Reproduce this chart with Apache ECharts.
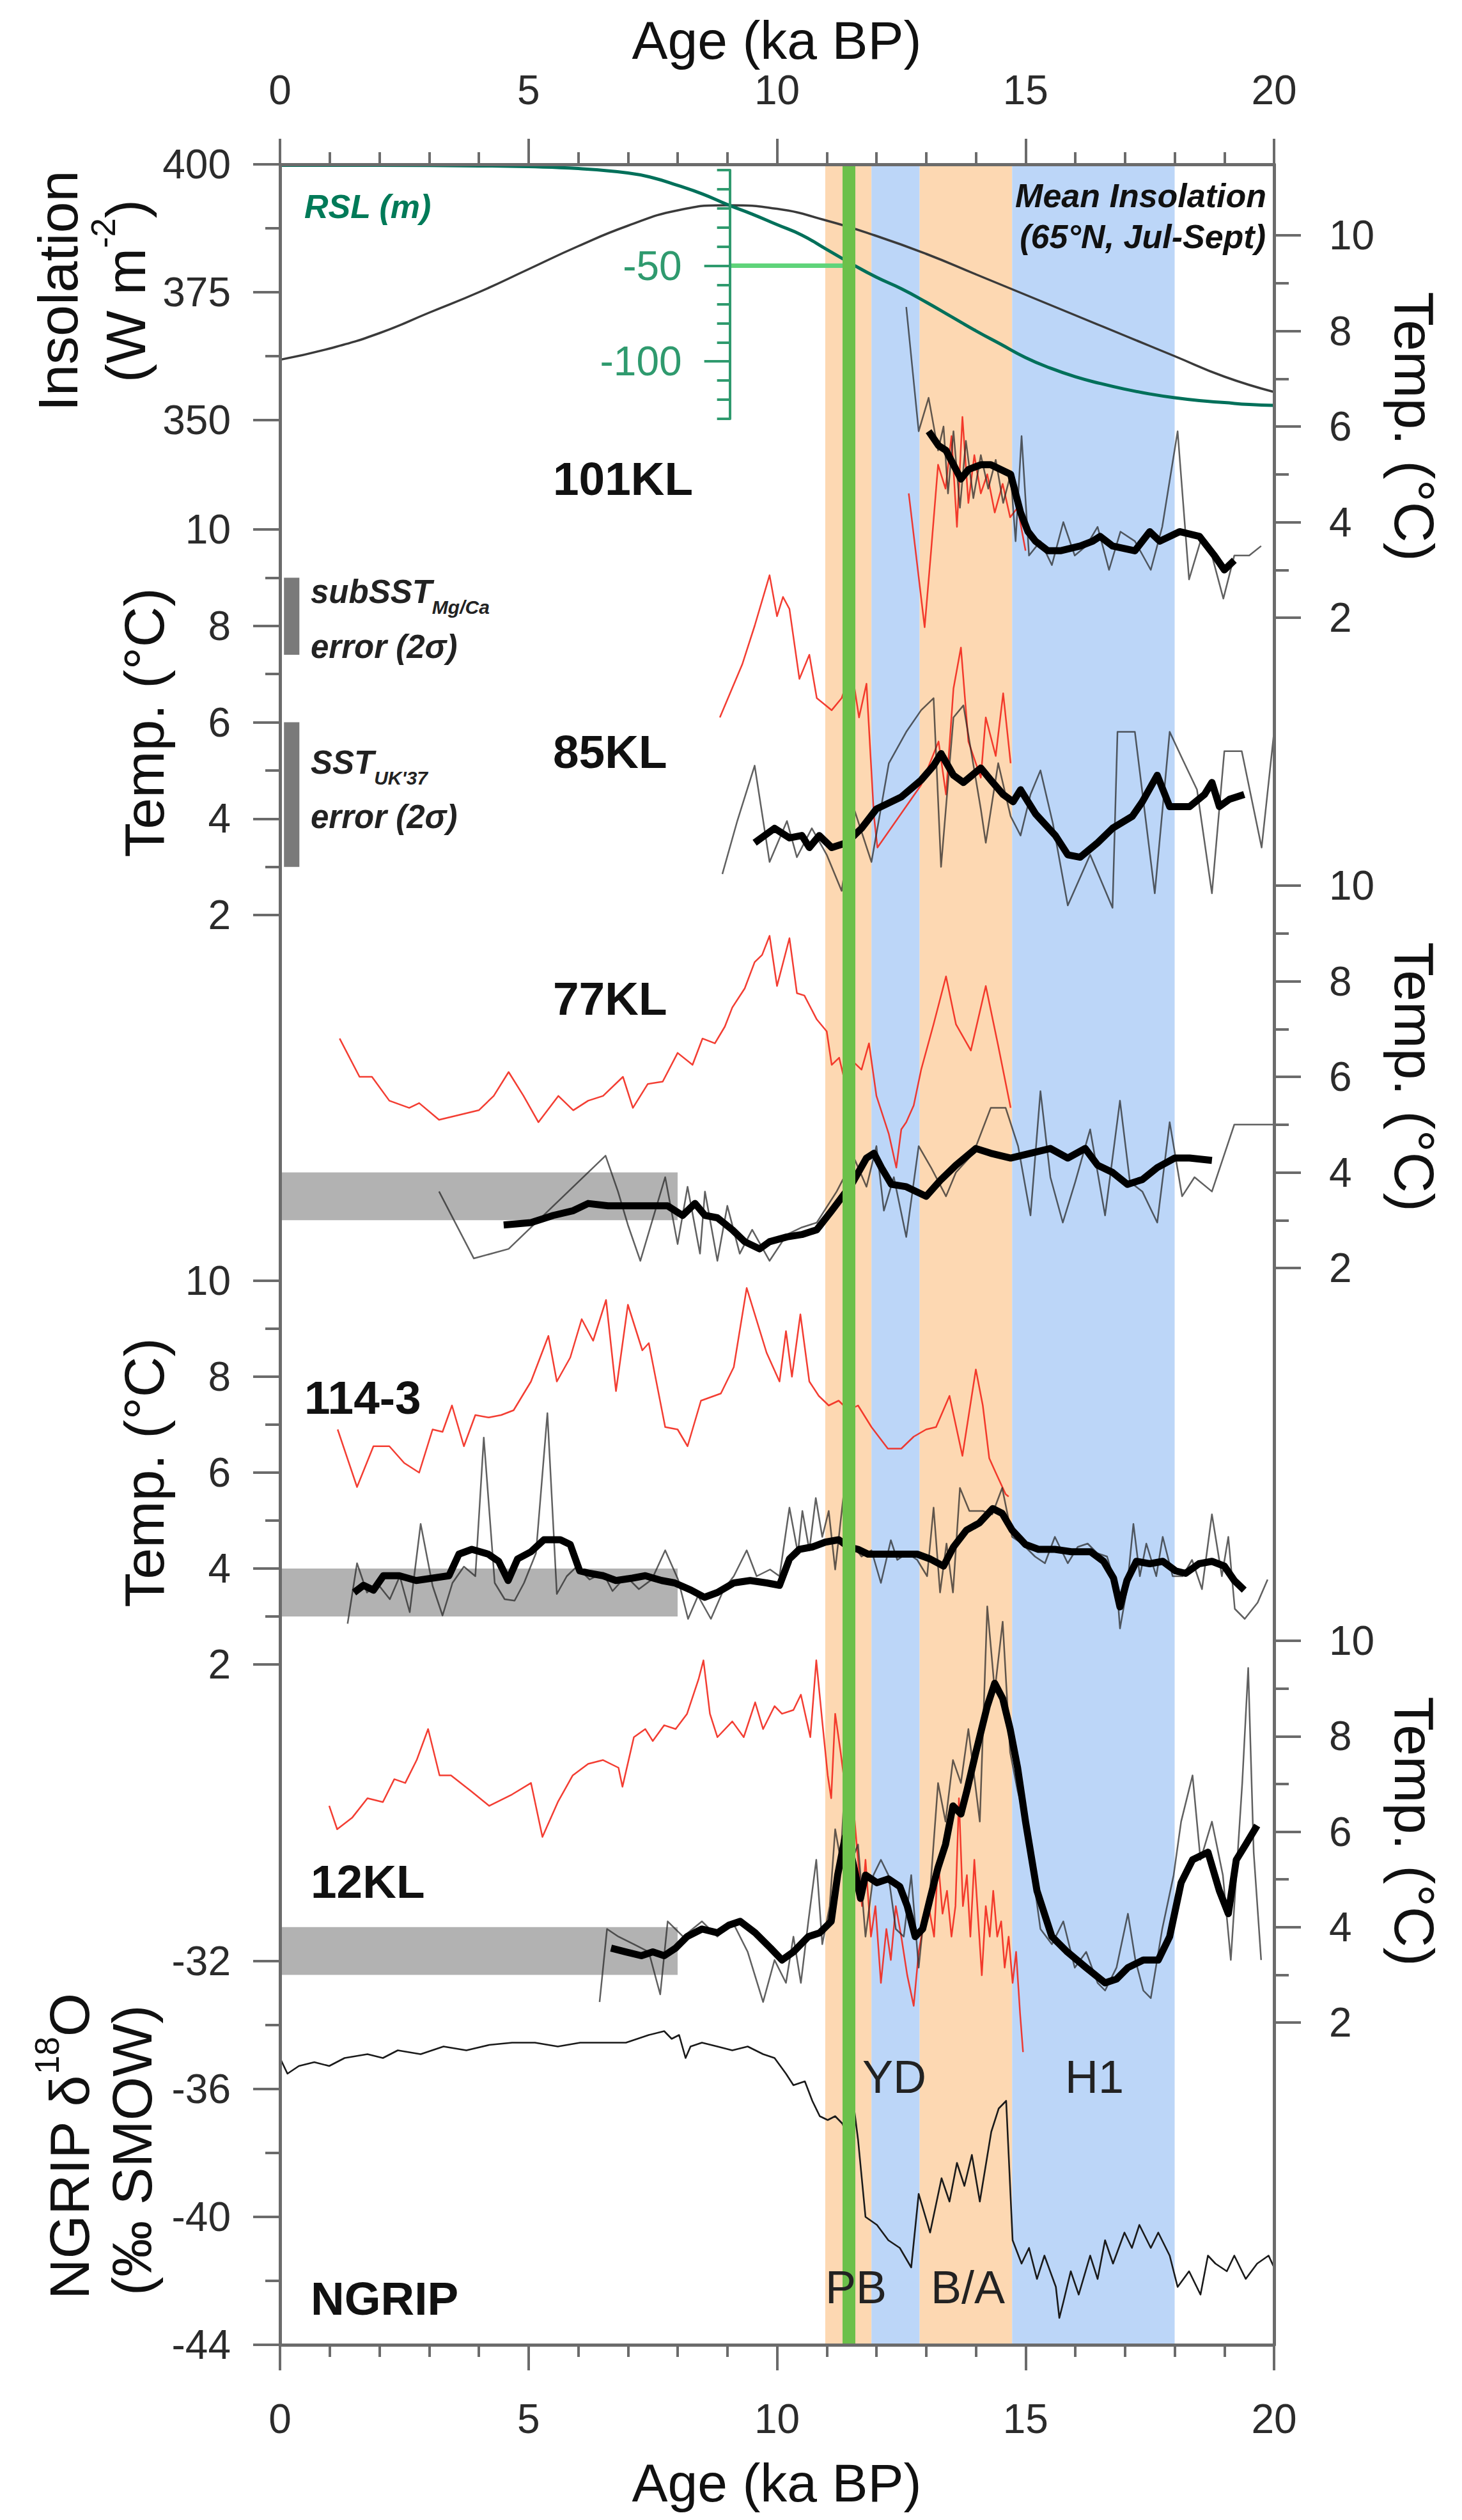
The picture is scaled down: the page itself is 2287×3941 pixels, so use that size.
<!DOCTYPE html>
<html lang="en">
<head>
<meta charset="UTF-8">
<title>Deglacial temperature records</title>
<style>
    html, body { margin: 0; padding: 0; background: #fff; }
    #chart { width: 2287px; height: 3941px; }
</style>
</head>
<body>
<div id="chart"></div>
<script src="https://cdn.jsdelivr.net/npm/echarts@6.0.0/dist/echarts.min.js"></script>
<script>
// ---- data (age in ka BP, value) ----
const insolAge = [0,1,2,3,4,5,6,7,8,9,10,11,12,13,14,15,16,17,18,19,20];
const insolW   = [361.8,364,367,371,375,379.5,384,388,391,392,391.3,389,386,382.5,378.5,374.5,370.5,366.5,362.5,358.5,355.5];

const rslAge = [0,2,4,5,6,7,7.5,8,8.5,9,9.5,10,10.5,11,11.5,12,12.5,13,13.5,14,14.5,15,15.5,16,16.5,17,17.5,18,18.5,19,19.5,20];
const rslM   = [2.5,2.5,2.2,1.8,0.8,-1.5,-4,-8,-12.5,-18,-23,-28.5,-34,-41.5,-49,-56,-62,-69,-76.5,-84,-91,-98,-103.5,-108,-111.5,-114.5,-117,-119,-120.5,-121.5,-122.5,-123];
const rslMark = [[9.05,-50],[11.45,-50]];

const kl101Red = [[12.65,4.6],[12.97,1.8],[13.1,3.4],[13.24,5.2],[13.39,4.7],[13.51,5.8],[13.62,3.9],[13.73,6.2],[13.85,4.4],[13.97,5.4],[14.1,4.6],[14.23,5.0],[14.38,4.2],[14.54,4.8],[14.69,4.1],[14.84,4.3],[15.0,3.4]];
const kl101Thin = [[12.6,8.5],[12.85,5.9],[13.05,6.6],[13.24,5.5],[13.35,6.0],[13.44,4.6],[13.55,5.9],[13.68,4.3],[13.8,5.7],[13.95,4.5],[14.1,5.4],[14.25,4.7],[14.4,5.3],[14.55,4.4],[14.7,5.0],[14.8,3.6],[14.92,5.8],[15.07,3.3],[15.3,3.6],[15.53,3.1],[15.76,4.0],[15.99,3.3],[16.22,3.5],[16.45,3.9],[16.68,3.0],[16.91,3.8],[17.2,3.6],[17.52,3.0],[17.75,3.9],[18.06,5.9],[18.29,2.8],[18.52,3.6],[18.75,3.3],[18.98,2.4],[19.2,3.3],[19.5,3.3],[19.74,3.5]];
const kl101Thick = [[13.05,5.9],[13.25,5.6],[13.4,5.5],[13.55,5.2],[13.7,4.9],[13.85,5.1],[14.1,5.2],[14.3,5.2],[14.5,5.1],[14.7,5.0],[14.9,4.2],[15.05,3.8],[15.2,3.6],[15.45,3.4],[15.7,3.4],[16.1,3.5],[16.35,3.6],[16.5,3.7],[16.75,3.5],[17.2,3.4],[17.5,3.8],[17.7,3.6],[18.1,3.8],[18.5,3.7],[18.8,3.3],[19.0,3.0],[19.2,3.2]];

const kl85Red = [[8.85,6.1],[9.3,7.2],[9.55,8.0],[9.85,9.05],[10.0,8.2],[10.12,8.6],[10.25,8.35],[10.45,6.9],[10.65,7.4],[10.8,6.5],[11.1,6.25],[11.3,6.5],[11.5,7.1],[11.65,6.1],[11.8,6.8],[11.95,4.05],[12.02,3.4],[12.9,4.7],[13.25,5.6],[13.4,4.5],[13.55,6.7],[13.7,7.55],[13.85,5.6],[14.1,4.85],[14.2,6.1],[14.4,5.3],[14.55,6.6],[14.7,5.15]];
const kl85Thin = [[8.9,2.85],[9.2,3.95],[9.55,5.1],[9.85,3.1],[10.2,3.95],[10.4,3.2],[10.7,3.8],[11.0,3.25],[11.3,2.5],[11.55,4.2],[11.9,3.1],[12.25,5.15],[12.6,5.8],[12.9,6.25],[13.15,6.5],[13.3,3.0],[13.55,6.1],[13.75,6.35],[14.1,4.2],[14.2,3.5],[14.45,5.15],[14.7,4.05],[14.9,3.65],[15.1,4.5],[15.3,5.0],[15.55,3.9],[15.85,2.2],[16.3,3.25],[16.75,2.15],[16.85,5.8],[17.2,5.8],[17.6,2.45],[17.9,5.8],[18.15,5.25],[18.45,4.6],[18.75,2.45],[19.0,5.4],[19.35,5.4],[19.75,3.4],[20.0,5.8]];
const kl85Thick = [[9.55,3.5],[9.95,3.8],[10.25,3.6],[10.5,3.65],[10.65,3.4],[10.85,3.65],[11.1,3.4],[11.4,3.5],[11.7,3.8],[12.0,4.2],[12.5,4.45],[12.9,4.8],[13.15,5.1],[13.3,5.35],[13.55,4.9],[13.75,4.75],[14.1,5.05],[14.3,4.8],[14.55,4.5],[14.75,4.35],[14.9,4.6],[15.2,4.1],[15.6,3.65],[15.85,3.25],[16.1,3.2],[16.45,3.5],[16.75,3.8],[17.15,4.05],[17.35,4.35],[17.65,4.9],[17.9,4.25],[18.3,4.25],[18.6,4.5],[18.75,4.75],[18.9,4.25],[19.1,4.4],[19.4,4.5]];

const kl77Red = [[1.2,6.8],[1.6,6.0],[1.85,6.0],[2.2,5.5],[2.6,5.35],[2.8,5.45],[3.2,5.1],[3.6,5.2],[4.0,5.3],[4.3,5.6],[4.6,6.1],[4.9,5.6],[5.2,5.05],[5.6,5.6],[5.9,5.3],[6.2,5.5],[6.5,5.6],[6.9,6.0],[7.1,5.35],[7.4,5.85],[7.7,5.9],[8.0,6.5],[8.3,6.25],[8.5,6.8],[8.75,6.7],[8.95,7.05],[9.1,7.45],[9.35,7.85],[9.55,8.4],[9.7,8.55],[9.85,8.95],[10.0,7.9],[10.25,8.9],[10.4,7.75],[10.55,7.7],[10.8,7.2],[11.0,6.95],[11.1,6.25],[11.25,6.4],[11.4,5.75],[11.55,6.3],[11.7,6.15],[11.85,6.7],[12.0,5.6],[12.25,4.8],[12.4,4.1],[12.5,4.9],[12.6,5.05],[12.75,5.4],[12.9,6.15],[13.15,7.1],[13.4,8.1],[13.6,7.1],[13.9,6.55],[14.2,7.9],[14.45,6.65],[14.7,5.35]];
const kl77Thin = [[3.2,3.6],[3.9,2.2],[4.6,2.4],[6.55,4.35],[6.8,3.6],[7.0,2.9],[7.25,2.15],[7.75,3.9],[8.0,2.5],[8.2,3.7],[8.45,2.3],[8.55,3.6],[8.8,2.15],[9.0,3.3],[9.25,2.3],[9.5,2.8],[9.85,2.15],[10.2,2.7],[10.5,2.85],[10.8,2.95],[11.2,3.6],[11.55,4.3],[11.8,3.7],[12.0,4.55],[12.15,3.2],[12.35,3.9],[12.6,2.65],[12.85,4.55],[13.1,4.1],[13.4,3.5],[13.6,4.0],[13.95,4.4],[14.3,5.35],[14.6,5.35],[14.85,4.55],[15.1,3.1],[15.3,5.7],[15.5,3.9],[15.75,2.95],[16.0,3.8],[16.3,4.9],[16.6,3.1],[16.9,5.5],[17.1,3.8],[17.35,3.6],[17.65,2.95],[17.9,5.05],[18.15,3.5],[18.4,3.9],[18.75,3.6],[19.2,5.0],[19.5,5.0],[20.0,5.0]];
const kl77Thick = [[4.5,2.9],[5.05,2.95],[5.5,3.1],[5.9,3.2],[6.2,3.35],[6.6,3.3],[7.0,3.3],[7.4,3.3],[7.8,3.3],[8.1,3.1],[8.35,3.35],[8.55,3.1],[8.8,3.05],[9.1,2.8],[9.35,2.55],[9.65,2.4],[9.85,2.55],[10.2,2.65],[10.5,2.7],[10.8,2.8],[11.1,3.2],[11.5,3.75],[11.8,4.3],[11.95,4.4],[12.1,4.1],[12.3,3.75],[12.6,3.7],[13.0,3.5],[13.3,3.85],[13.6,4.15],[14.0,4.5],[14.3,4.4],[14.7,4.3],[15.1,4.4],[15.5,4.5],[15.85,4.3],[16.2,4.5],[16.45,4.15],[16.75,4.0],[17.05,3.75],[17.35,3.85],[17.65,4.1],[18.0,4.3],[18.3,4.3],[18.75,4.25]];

const kl114Red = [[1.16,6.9],[1.55,5.7],[1.88,6.55],[2.2,6.55],[2.5,6.2],[2.8,6.0],[3.07,6.9],[3.27,6.85],[3.46,7.4],[3.7,6.55],[3.93,7.2],[4.2,7.15],[4.45,7.2],[4.7,7.3],[5.05,7.9],[5.4,8.85],[5.57,7.9],[5.84,8.4],[6.07,9.2],[6.3,8.75],[6.56,9.6],[6.76,7.7],[7.0,9.5],[7.29,8.55],[7.42,8.7],[7.75,6.95],[8.0,6.9],[8.2,6.55],[8.47,7.5],[8.87,7.65],[9.13,8.2],[9.39,9.85],[9.79,8.5],[10.05,7.9],[10.18,8.95],[10.3,8.0],[10.47,9.3],[10.65,7.9],[10.84,7.6],[11.04,7.4],[11.24,7.5],[11.44,7.3],[11.63,7.4],[11.9,6.95],[12.23,6.5],[12.5,6.5],[12.75,6.75],[13.0,6.9],[13.2,6.95],[13.47,7.6],[13.73,6.35],[14.0,8.15],[14.14,7.4],[14.27,6.3],[14.4,6.0],[14.6,5.55],[14.66,5.5]];
const kl114Thin = [[1.36,2.85],[1.55,4.11],[1.75,3.5],[1.95,3.7],[2.21,3.36],[2.41,3.84],[2.61,3.09],[2.83,4.93],[3.07,3.64],[3.27,3.02],[3.47,3.7],[3.7,4.04],[3.93,3.84],[4.1,6.73],[4.32,3.7],[4.52,3.36],[4.72,3.33],[4.91,3.7],[5.15,4.32],[5.38,7.24],[5.57,3.47],[5.77,3.84],[5.97,4.04],[6.23,3.77],[6.5,3.91],[6.69,3.53],[6.96,3.84],[7.22,3.57],[7.48,3.77],[7.75,4.38],[8.01,3.77],[8.21,2.95],[8.41,3.43],[8.67,2.95],[8.93,3.57],[9.13,3.84],[9.39,4.38],[9.59,3.84],[9.86,3.98],[10.05,3.84],[10.25,5.27],[10.42,4.32],[10.51,5.2],[10.65,4.38],[10.78,5.47],[10.91,4.66],[11.04,5.2],[11.17,3.98],[11.34,5.54],[11.5,4.52],[11.7,4.25],[11.9,4.38],[12.09,3.7],[12.29,4.59],[12.42,4.18],[12.62,4.32],[12.82,4.18],[13.02,3.84],[13.15,5.27],[13.28,3.5],[13.41,4.52],[13.54,3.5],[13.68,5.68],[13.87,5.2],[14.14,5.2],[14.33,5.13],[14.53,5.68],[14.73,4.66],[14.93,4.52],[15.19,4.25],[15.39,4.11],[15.59,4.66],[15.85,4.11],[16.05,4.45],[16.25,4.52],[16.44,4.32],[16.64,4.25],[16.84,3.57],[16.9,2.75],[17.04,3.57],[17.17,4.93],[17.3,3.84],[17.43,4.52],[17.63,3.84],[17.76,4.66],[17.96,3.84],[18.16,3.84],[18.35,4.18],[18.55,3.57],[18.75,5.13],[18.95,3.84],[19.08,4.66],[19.21,3.16],[19.41,2.95],[19.67,3.29],[19.87,3.77]];
const kl114Thick = [[1.49,3.5],[1.68,3.65],[1.88,3.55],[2.08,3.85],[2.4,3.85],[2.74,3.75],[3.07,3.8],[3.4,3.85],[3.6,4.3],[3.86,4.4],[4.19,4.3],[4.4,4.15],[4.59,3.75],[4.78,4.2],[5.05,4.35],[5.31,4.6],[5.64,4.6],[5.84,4.5],[6.03,3.95],[6.23,3.9],[6.5,3.85],[6.76,3.75],[7.09,3.8],[7.35,3.85],[7.68,3.75],[7.94,3.7],[8.27,3.55],[8.54,3.4],[8.8,3.5],[9.13,3.7],[9.46,3.75],[9.79,3.7],[10.05,3.65],[10.25,4.2],[10.45,4.4],[10.71,4.45],[10.97,4.55],[11.24,4.6],[11.44,4.45],[11.63,4.4],[11.83,4.3],[12.16,4.3],[12.5,4.3],[12.82,4.3],[13.08,4.2],[13.35,4.05],[13.55,4.45],[13.81,4.8],[14.07,4.95],[14.34,5.25],[14.53,5.15],[14.73,4.8],[15.0,4.5],[15.26,4.4],[15.59,4.4],[15.92,4.35],[16.31,4.35],[16.57,4.15],[16.77,3.8],[16.9,3.2],[17.04,3.75],[17.23,4.15],[17.5,4.1],[17.76,4.15],[18.02,3.95],[18.22,3.9],[18.49,4.1],[18.75,4.15],[19.0,4.05],[19.2,3.75],[19.4,3.55]];

const kl12Red = [[0.99,6.54],[1.15,6.05],[1.45,6.29],[1.76,6.7],[2.07,6.62],[2.3,7.1],[2.52,7.02],[2.75,7.5],[2.98,8.15],[3.21,7.18],[3.44,7.18],[3.83,6.86],[4.21,6.54],[4.67,6.78],[5.05,7.02],[5.28,5.89],[5.59,6.62],[5.89,7.18],[6.2,7.42],[6.5,7.5],[6.81,7.34],[6.89,6.94],[7.12,7.98],[7.35,8.15],[7.5,7.9],[7.73,8.23],[7.96,8.15],[8.19,8.47],[8.42,9.19],[8.52,9.59],[8.65,8.47],[8.8,7.98],[9.1,8.31],[9.33,7.98],[9.56,8.71],[9.72,8.15],[9.95,8.63],[10.1,8.47],[10.33,8.55],[10.48,8.87],[10.67,7.98],[10.79,9.59],[10.91,8.31],[11.02,7.18],[11.09,6.7],[11.17,8.47],[11.28,7.66],[11.4,6.7],[11.48,5.41],[11.55,6.37],[11.71,4.44],[11.78,5.41],[11.89,3.8],[11.98,4.44],[12.09,2.83],[12.2,3.96],[12.29,3.31],[12.39,4.44],[12.5,3.8],[12.62,2.99],[12.75,2.35],[12.85,3.48],[12.96,4.12],[13.05,4.44],[13.16,3.8],[13.24,5.41],[13.33,4.28],[13.42,4.76],[13.51,3.8],[13.59,4.44],[13.66,6.7],[13.74,4.44],[13.82,5.09],[13.89,3.8],[13.97,5.41],[14.05,4.12],[14.12,2.99],[14.2,4.44],[14.28,3.8],[14.35,4.76],[14.43,3.8],[14.51,4.12],[14.58,3.15],[14.66,3.8],[14.74,2.83],[14.81,3.48],[14.89,2.19],[14.95,1.38]];
const kl12Thin = [[6.43,2.43],[6.58,3.96],[6.81,3.8],[7.12,3.64],[7.42,3.48],[7.65,2.59],[7.8,4.12],[8.11,3.8],[8.49,4.12],[8.8,3.8],[9.1,4.12],[9.41,3.48],[9.72,2.43],[9.95,3.31],[10.18,2.83],[10.33,3.8],[10.48,2.83],[10.63,4.12],[10.79,5.41],[10.91,3.64],[11.06,4.44],[11.17,6.05],[11.28,5.41],[11.4,7.66],[11.51,5.41],[11.63,5.73],[11.78,3.8],[11.94,5.09],[12.09,5.41],[12.24,5.09],[12.39,3.96],[12.55,3.8],[12.7,5.09],[12.85,3.15],[12.96,4.28],[13.08,4.76],[13.24,7.02],[13.39,6.21],[13.54,7.5],[13.7,7.02],[13.85,8.15],[14.08,6.21],[14.23,10.72],[14.38,8.95],[14.54,10.4],[14.69,7.66],[14.84,6.86],[15.0,6.21],[15.15,5.09],[15.3,3.96],[15.53,3.64],[15.76,4.12],[15.99,3.15],[16.22,3.48],[16.45,2.83],[16.6,2.67],[16.83,3.15],[17.06,4.28],[17.21,3.31],[17.37,2.67],[17.52,2.51],[17.75,3.96],[17.98,5.09],[18.13,6.21],[18.36,7.18],[18.52,5.41],[18.75,6.21],[18.97,5.09],[19.13,3.31],[19.36,7.02],[19.48,9.43],[19.59,5.57],[19.74,3.31]];
const kl12Thick = [[6.66,3.56],[6.96,3.48],[7.27,3.4],[7.5,3.48],[7.73,3.4],[7.96,3.56],[8.19,3.8],[8.49,3.96],[8.8,3.88],[9.03,4.04],[9.26,4.12],[9.56,3.88],[9.87,3.56],[10.1,3.31],[10.33,3.48],[10.63,3.8],[10.86,3.88],[11.09,4.12],[11.22,5.09],[11.37,5.89],[11.48,5.57],[11.55,5.25],[11.68,4.6],[11.78,5.09],[12.01,4.93],[12.24,5.01],[12.47,4.85],[12.62,4.44],[12.78,3.8],[12.93,3.96],[13.08,4.6],[13.24,5.25],[13.39,5.73],[13.54,6.54],[13.7,6.37],[13.82,6.86],[14.0,7.66],[14.23,8.63],[14.38,9.11],[14.54,8.79],[14.69,8.15],[14.84,7.34],[15.0,6.21],[15.23,4.76],[15.53,3.8],[15.84,3.48],[16.22,3.15],[16.6,2.83],[16.83,2.91],[17.06,3.15],[17.37,3.31],[17.67,3.31],[17.9,3.8],[18.13,4.93],[18.36,5.41],[18.67,5.57],[18.9,4.76],[19.08,4.28],[19.24,5.41],[19.43,5.73],[19.66,6.13]];

const ngrip = [[0,-35.03],[0.15,-35.52],[0.38,-35.28],[0.69,-35.16],[0.99,-35.28],[1.3,-35.03],[1.76,-34.91],[2.07,-35.03],[2.37,-34.79],[2.83,-34.91],[3.29,-34.67],[3.75,-34.79],[4.21,-34.62],[4.67,-34.55],[5.13,-34.55],[5.59,-34.67],[6.04,-34.55],[6.5,-34.55],[6.96,-34.55],[7.42,-34.31],[7.73,-34.19],[7.88,-34.43],[8.03,-34.31],[8.16,-35.03],[8.26,-34.67],[8.49,-34.55],[8.8,-34.67],[9.1,-34.79],[9.41,-34.67],[9.72,-34.91],[9.95,-35.03],[10.18,-35.52],[10.33,-35.88],[10.56,-35.76],[10.71,-36.37],[10.86,-36.85],[11.02,-36.97],[11.17,-36.85],[11.32,-37.09],[11.48,-37.82],[11.55,-36.61],[11.63,-37.58],[11.78,-40.0],[12.01,-40.25],[12.24,-40.73],[12.47,-40.97],[12.7,-41.58],[12.85,-39.28],[13.08,-40.49],[13.31,-38.79],[13.47,-39.52],[13.62,-38.31],[13.77,-39.03],[13.92,-38.06],[14.08,-39.52],[14.31,-37.34],[14.46,-36.61],[14.61,-36.37],[14.74,-40.73],[14.92,-41.46],[15.07,-40.97],[15.23,-41.94],[15.38,-41.21],[15.61,-42.19],[15.68,-43.16],[15.76,-42.67],[15.91,-41.7],[16.07,-42.43],[16.3,-41.21],[16.45,-41.94],[16.6,-40.73],[16.76,-41.46],[16.99,-40.49],[17.14,-40.97],[17.29,-40.25],[17.52,-40.97],[17.67,-40.49],[17.9,-41.21],[18.06,-42.19],[18.29,-41.7],[18.52,-42.43],[18.67,-41.21],[18.82,-41.46],[19.05,-41.7],[19.2,-41.21],[19.43,-41.94],[19.66,-41.46],[19.89,-41.21],[20,-41.58]];

// period bands (ka) and Preboreal marker
const pbBand = [10.97, 11.9];
const ydBand = [11.9, 12.87];
const baBand = [12.87, 14.73];
const h1Band = [14.73, 18.0];
const pbLineAge = 11.45;

// grey 2-sigma boxes (age range, temperature range)
const greyAge = [0, 8];
const kl77Grey = [3, 4];
const kl114Grey = [3, 4];
const kl12Grey = [3, 4];
const subSstErr = [7.4, 9.0];
const sstErr = [3.0, 6.0];

// ---- layout ----
const FONT = '"Liberation Sans", Arial, Helvetica, sans-serif';
const AXC = '#6b6b6b';
const LBC = '#2b2b2b';
const PXKA = 1555 / 20;
const TICKFONT = 64;

function grid(top, height) {
    return { left: 438, right: 294, top: top, height: height };
}
const grids = [
    grid(257, 3410),  // 0 frame
    grid(257, 400),   // 1 insolation
    grid(266, 389),   // 2 RSL
    grid(368, 598),   // 3 101KL
    grid(828, 603),   // 4 85KL
    grid(1385, 598),  // 5 77KL
    grid(2003, 600),  // 6 114-3
    grid(2566, 597),  // 7 12KL
    grid(3067, 600)   // 8 NGRIP
];

function ageAxis(pos) {
    return {
        gridIndex: 0, type: 'value', position: pos, min: 0, max: 20, interval: 5, z: 10,
        axisLine: { onZero: false, lineStyle: { color: AXC, width: 5 } },
        axisTick: { length: 40, lineStyle: { color: AXC, width: 4 } },
        minorTick: { show: true, splitNumber: 5, length: 19, lineStyle: { color: AXC, width: 4 } },
        axisLabel: { margin: 84, fontSize: TICKFONT, fontFamily: FONT, color: LBC },
        splitLine: { show: false }
    };
}
const xAxes = [ageAxis('bottom'), ageAxis('top')];
for (let g = 1; g < grids.length; g++) {
    xAxes.push({ gridIndex: g, type: 'value', min: 0, max: 20, show: false, axisLine: { onZero: false } });
}

function valAxis(g, pos, min, max, interval, labelMargin) {
    return {
        gridIndex: g, type: 'value', position: pos, min: min, max: max, interval: interval, z: 10,
        axisLine: { show: false, onZero: false },
        axisTick: { show: true, length: 42, lineStyle: { color: AXC, width: 4 } },
        minorTick: { show: true, splitNumber: 2, length: 23, lineStyle: { color: AXC, width: 4 } },
        axisLabel: { margin: labelMargin, fontSize: TICKFONT, fontFamily: FONT, color: LBC },
        splitLine: { show: false }
    };
}
function frameSide(pos) {
    return {
        gridIndex: 0, type: 'value', position: pos, min: 0, max: 1, z: 10,
        axisLine: { show: true, onZero: false, lineStyle: { color: AXC, width: 5 } },
        axisTick: { show: false }, axisLabel: { show: false }, splitLine: { show: false }
    };
}
const RSL_OFFSET = -9.05 * PXKA;
const RSLC = '#2f9a6e';

const yAxes = [
    frameSide('left'),                             // 0
    frameSide('right'),                            // 1
    valAxis(1, 'left', 350, 400, 25, 77),          // 2 insolation
    { gridIndex: 2, type: 'value', position: 'left', offset: RSL_OFFSET, min: -130, max: 0, interval: 10, z: 10,
      axisLine: { show: true, onZero: false, lineStyle: { color: RSLC, width: 4 } },
      axisTick: { length: 20, lineStyle: { color: RSLC, width: 4 } },
      axisLabel: { show: false }, splitLine: { show: false } },           // 3 RSL minor ticks
    { gridIndex: 2, type: 'value', position: 'left', offset: RSL_OFFSET, min: -130, max: 0, z: 10,
      axisLine: { show: false, onZero: false },
      axisTick: { length: 40, customValues: [-50, -100], lineStyle: { color: RSLC, width: 4 } },
      axisLabel: { margin: 75, customValues: [-50, -100], fontSize: TICKFONT, fontFamily: FONT, color: RSLC },
      splitLine: { show: false } },                                       // 4 RSL labels
    valAxis(3, 'right', 2, 10, 2, 86),             // 5 101KL
    valAxis(4, 'left', 2, 10, 2, 77),              // 6 85KL
    valAxis(5, 'right', 2, 10, 2, 86),             // 7 77KL
    valAxis(6, 'left', 2, 10, 2, 77),              // 8 114-3
    valAxis(7, 'right', 2, 10, 2, 86),             // 9 12KL
    valAxis(8, 'left', -44, -32, 4, 77)            // 10 NGRIP
];

const zip = (a, b) => a.map((v, i) => [v, b[i]]);

function line(data, g, yIdx, color, width, z, smooth) {
    return {
        type: 'line', xAxisIndex: g === 0 ? 0 : g + 1, yAxisIndex: yIdx,
        data: data, showSymbol: false, symbol: 'none', smooth: !!smooth, clip: false,
        silent: true, z: z, lineStyle: { color: color, width: width, join: 'round' }
    };
}
function box(g, yIdx, xr, yr, color) {
    return {
        type: 'line', xAxisIndex: g + 1, yAxisIndex: yIdx, data: [], z: 2, silent: true,
        markArea: { silent: true, itemStyle: { color: color, opacity: 1 },
            data: [[{ xAxis: xr[0], yAxis: yr[0] }, { xAxis: xr[1], yAxis: yr[1] }]] }
    };
}

const RED = 'rgba(242,40,28,0.9)';
const THIN = 'rgba(35,35,35,0.72)';
const THICK = '#000';
const GREY = '#b2b2b2';

const series = [
    { type: 'line', xAxisIndex: 0, yAxisIndex: 0, data: [], z: 1, silent: true,
      markArea: { silent: true, data: [
          [{ xAxis: pbBand[0], itemStyle: { color: '#fdd8b2' } }, { xAxis: pbBand[1] }],
          [{ xAxis: ydBand[0], itemStyle: { color: '#bcd6f8' } }, { xAxis: ydBand[1] }],
          [{ xAxis: baBand[0], itemStyle: { color: '#fdd8b2' } }, { xAxis: baBand[1] }],
          [{ xAxis: h1Band[0], itemStyle: { color: '#bcd6f8' } }, { xAxis: h1Band[1] }]
      ] } },
    { type: 'line', xAxisIndex: 0, yAxisIndex: 0, data: [], z: 2, silent: true,
      markLine: { silent: true, symbol: ['none', 'none'], label: { show: false },
          lineStyle: { color: '#6cc04a', width: 20, type: 'solid' },
          data: [{ xAxis: pbLineAge }] } },

    box(4, 6, [0.08, 0.39], subSstErr, '#7a7a7a'),
    box(4, 6, [0.08, 0.39], sstErr, '#7a7a7a'),
    box(5, 7, greyAge, kl77Grey, GREY),
    box(6, 8, greyAge, kl114Grey, GREY),
    box(7, 9, greyAge, kl12Grey, GREY),

    line(zip(insolAge, insolW), 1, 2, '#3a3a3a', 3.5, 3, true),
    line(zip(rslAge, rslM), 2, 3, '#00705a', 5, 3, true),
    line(rslMark, 2, 3, '#5fd47a', 7, 3),

    line(kl101Red, 3, 5, RED, 2.5, 3),
    line(kl101Thin, 3, 5, THIN, 2.5, 3),
    line(kl101Thick, 3, 5, THICK, 11, 4),

    line(kl85Red, 4, 6, RED, 2.5, 3),
    line(kl85Thin, 4, 6, THIN, 2.5, 3),
    line(kl85Thick, 4, 6, THICK, 11, 4),

    line(kl77Red, 5, 7, RED, 2.5, 3),
    line(kl77Thin, 5, 7, THIN, 2.5, 3),
    line(kl77Thick, 5, 7, THICK, 11, 4),

    line(kl114Red, 6, 8, RED, 2.5, 3),
    line(kl114Thin, 6, 8, THIN, 2.5, 3),
    line(kl114Thick, 6, 8, THICK, 11, 4),

    line(kl12Red, 7, 9, RED, 2.5, 3),
    line(kl12Thin, 7, 9, THIN, 2.5, 3),
    line(kl12Thick, 7, 9, THICK, 11, 4),

    line(ngrip, 8, 10, '#1a1a1a', 2.6, 3)
];

// ---- text ----
function txt(x, y, text, o) {
    o = o || {};
    const align = o.align || 'center';
    return {
        type: 'text', x: x, y: y, rotation: o.rot || 0, z: 100, silent: true,
        style: {
            text: text, fill: o.color || '#111',
            fontFamily: FONT, fontSize: o.size || 88,
            fontWeight: o.weight || 'normal', fontStyle: o.italic ? 'italic' : 'normal',
            align: align, verticalAlign: 'middle',
            textAlign: align, textVerticalAlign: 'middle',
            rich: o.rich
        }
    };
}
const UP = Math.PI / 2, DOWN = -Math.PI / 2;
const supRich = (size) => ({
    a: { fontFamily: FONT, fontSize: size, fill: '#111', verticalAlign: 'bottom', lineHeight: size * 1.2 },
    s: { fontFamily: FONT, fontSize: size * 0.6, fill: '#111', verticalAlign: 'top', lineHeight: size * 1.2 }
});
const subRich = {
    a: { fontFamily: FONT, fontSize: 51, fontWeight: 'bold', fontStyle: 'italic', fill: '#222', verticalAlign: 'top', lineHeight: 64 },
    s: { fontFamily: FONT, fontSize: 30, fontWeight: 'bold', fontStyle: 'italic', fill: '#222', verticalAlign: 'bottom', lineHeight: 64 }
};

const graphics = [
    txt(1215, 63, 'Age (ka BP)', { size: 84 }),
    txt(1215, 3883, 'Age (ka BP)', { size: 84 }),

    txt(90, 455, 'Insolation', { rot: UP }),
    txt(188, 455, '{a|(W m}{s|-2}{a|)}', { rot: UP, rich: supRich(88) }),
    txt(225, 1130, 'Temp. (°C)', { rot: UP }),
    txt(225, 2303, 'Temp. (°C)', { rot: UP }),
    txt(100, 3596, '{a|NGRIP δ}{s|18}{a|O}', { rot: UP, align: 'left', rich: supRich(88) }),
    txt(206, 3590, '(‰ SMOW)', { rot: UP, align: 'left' }),

    txt(2212, 667, 'Temp. (°C)', { rot: DOWN }),
    txt(2212, 1684, 'Temp. (°C)', { rot: DOWN }),
    txt(2212, 2864, 'Temp. (°C)', { rot: DOWN }),

    txt(865, 748, '101KL', { size: 73, weight: 'bold', align: 'left' }),
    txt(865, 1175, '85KL', { size: 73, weight: 'bold', align: 'left' }),
    txt(865, 1561, '77KL', { size: 73, weight: 'bold', align: 'left' }),
    txt(476, 2185, '114-3', { size: 73, weight: 'bold', align: 'left' }),
    txt(486, 2942, '12KL', { size: 73, weight: 'bold', align: 'left' }),
    txt(486, 3594, 'NGRIP', { size: 73, weight: 'bold', align: 'left' }),

    txt(1399, 3248, 'YD', { size: 72, color: '#222' }),
    txt(1712, 3248, 'H1', { size: 72, color: '#222' }),
    txt(1339, 3577, 'PB', { size: 72, color: '#222' }),
    txt(1514, 3577, 'B/A', { size: 72, color: '#222' }),

    txt(476, 323, 'RSL (m)', { size: 52, weight: 'bold', italic: true, color: '#007a58', align: 'left' }),
    txt(1981, 306, 'Mean Insolation', { size: 52, weight: 'bold', italic: true, align: 'right' }),
    txt(1980, 370, '(65°N, Jul-Sept)', { size: 52, weight: 'bold', italic: true, align: 'right' }),

    txt(486, 932, '{a|subSST}{s|Mg/Ca}', { size: 51, align: 'left', rich: subRich }),
    txt(486, 1011, 'error (2σ)', { size: 51, weight: 'bold', italic: true, color: '#222', align: 'left' }),
    txt(486, 1199, "{a|SST}{s|UK'37}", { size: 51, align: 'left', rich: subRich }),
    txt(486, 1277, 'error (2σ)', { size: 51, weight: 'bold', italic: true, color: '#222', align: 'left' })
];

const chart = echarts.init(document.getElementById('chart'), null, { renderer: 'svg' });
chart.setOption({
    animation: false,
    backgroundColor: '#fff',
    grid: grids,
    xAxis: xAxes,
    yAxis: yAxes,
    series: series,
    graphic: graphics
});
</script>
</body>
</html>
